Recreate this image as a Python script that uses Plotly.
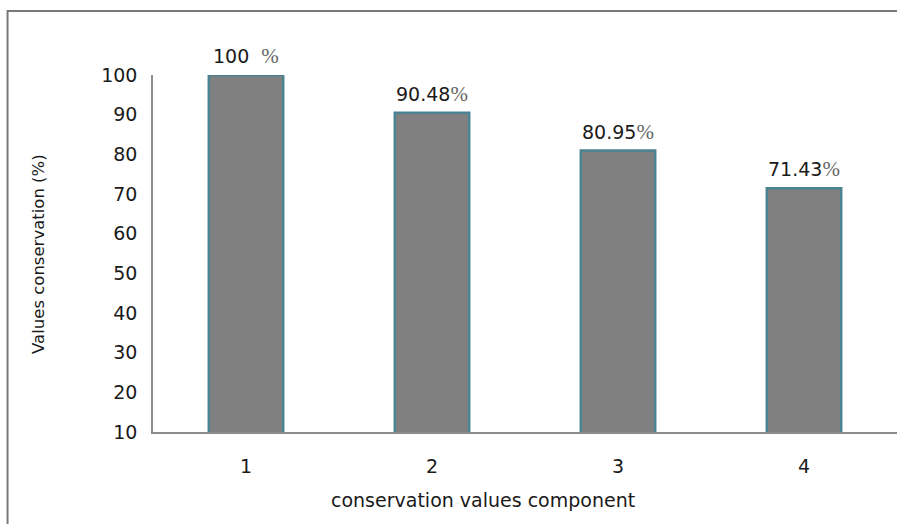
import plotly.graph_objects as go

# Conservation values per component (%)
components = ["1", "2", "3", "4"]
conservation = [100, 90.48, 80.95, 71.43]
label_text = ["100&nbsp;&nbsp;", "90.48", "80.95", "71.43"]
y_ticks = [10, 20, 30, 40, 50, 60, 70, 80, 90, 100]

FONT = "DejaVu Sans"
BAR_FILL = "#808080"
BAR_EDGE = "#4B8291"
AXIS_GREY = "#8C8C8C"

fig = go.Figure()
fig.add_trace(go.Bar(
    x=components,
    y=conservation,
    base=0,
    marker=dict(color=BAR_FILL, line=dict(color=BAR_EDGE, width=2.5)),
    hoverinfo="skip",
))

# Value labels above each bar, with a serif percent sign
# (category axis: annotation x is the category index)
annotations = []
for i, (v, t) in enumerate(zip(conservation, label_text)):
    annotations.append(dict(
        x=i, y=v, xref="x", yref="y",
        text=f"{t}<span style='font-family:Liberation Serif;font-size:21px;color:#666'>%</span>",
        showarrow=False, yanchor="bottom", yshift=5,
        font=dict(family=FONT, size=19, color="#1a1a1a"),
    ))

annotations.append(dict(
    text="conservation values component",
    xref="paper", yref="paper", x=0.4435, y=-0.19,
    showarrow=False, xanchor="center", yanchor="middle",
    font=dict(family=FONT, size=19, color="#1a1a1a"),
))
annotations.append(dict(
    text="Values conservation (%)",
    xref="paper", yref="paper", x=-0.154, y=0.5, textangle=-90,
    showarrow=False, xanchor="center", yanchor="middle",
    font=dict(family=FONT, size=16.5, color="#1a1a1a"),
))

fig.update_layout(
    width=897, height=524,
    margin=dict(l=153, r=0, t=75, b=92),
    paper_bgcolor="white", plot_bgcolor="white",
    bargap=0.6,
    showlegend=False,
    annotations=annotations,
    shapes=[dict(
        type="rect", xref="paper", yref="paper",
        x0=-0.1955, x1=1.05, y0=-0.35, y1=1.179,
        line=dict(color="#7a7a7a", width=2), fillcolor="rgba(0,0,0,0)",
        layer="below",
    )],
    xaxis=dict(
        type="category", range=[-0.5, 3.5],
        showline=True, linecolor=AXIS_GREY, linewidth=1.5,
        ticks="", showgrid=False, zeroline=False,
        tickfont=dict(family=FONT, size=19, color="#1a1a1a"),
        ticklabelstandoff=16,
    ),
    yaxis=dict(
        range=[10, 100], tickvals=y_ticks,
        showline=True, linecolor=AXIS_GREY, linewidth=1.5,
        ticks="", showgrid=False, zeroline=False,
        tickfont=dict(family=FONT, size=19, color="#1a1a1a"),
        ticklabelstandoff=10,
    ),
)

fig.write_html("out.html")
